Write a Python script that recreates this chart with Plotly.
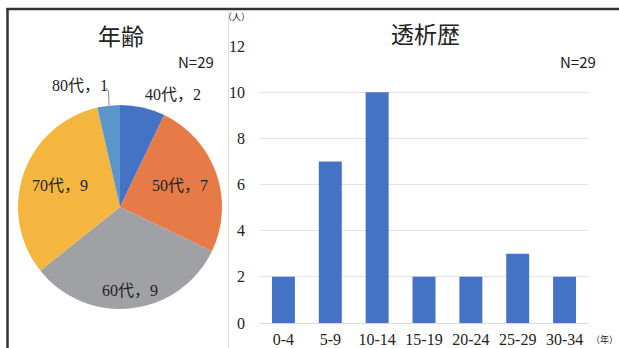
import plotly.graph_objects as go

# ---- data ----
age_labels = ["40代", "50代", "60代", "70代", "80代"]
age_counts = [2, 7, 9, 9, 1]
age_colors = ["#4472C4", "#E67B47", "#A0A1A4", "#F4B63E", "#5B96CB"]

dial_labels = ["0-4", "5-9", "10-14", "15-19", "20-24", "25-29", "30-34"]
dial_counts = [2, 7, 10, 2, 2, 3, 2]

y_ticks = [0, 2, 4, 6, 8, 10, 12]

W, H = 619, 348
def px(x):
    return x / W
def py(y):
    return 1 - y / H

SERIF = "Liberation Serif, Noto Sans CJK JP"
SANS = "Noto Sans CJK JP"
NARROW = "Liberation Sans Narrow, Arial Narrow, Noto Sans CJK JP"

fig = go.Figure()

# pie
cx, cy, r = 120, 207, 102
fig.add_trace(go.Pie(
    labels=age_labels, values=age_counts,
    marker=dict(colors=age_colors, line=dict(width=0)),
    sort=False, direction="clockwise", rotation=0,
    textinfo="none", hoverinfo="label+value",
    showlegend=False,
    domain=dict(x=[px(cx - r), px(cx + r)], y=[py(cy + r), py(cy - r)]),
))

# bars
fig.add_trace(go.Bar(
    x=dial_labels, y=dial_counts, marker=dict(color="#4472C4", line=dict(width=0)),
    showlegend=False, xaxis="x", yaxis="y",
))

fig.update_layout(
    width=W, height=H, margin=dict(l=0, r=0, t=0, b=0, autoexpand=False),
    paper_bgcolor="white", plot_bgcolor="white",
    bargap=0.51,
    xaxis=dict(domain=[px(260), px(588)], showgrid=False, zeroline=False,
               showline=True, linecolor="#D9D9D9", linewidth=1, automargin=False,
               tickfont=dict(family=SERIF, size=16, color="#222"),
               ticks="", ticklabelstandoff=2, fixedrange=True),
    yaxis=dict(domain=[py(323), py(46)], range=[0, 12], tickvals=y_ticks,
               showgrid=True, gridcolor="#E3E3E3", gridwidth=1, zeroline=False,
               showline=False, ticks="", ticklabelstandoff=14, automargin=False,
               tickfont=dict(family=SERIF, size=16, color="#222"), fixedrange=True),
)

def A(x, y, text, font, xanchor="center"):
    return dict(x=px(x), y=py(y), xref="paper", yref="paper", text=text, showarrow=False,
                font=font, xanchor=xanchor, yanchor="middle")

ann = []
# titles
ann.append(A(121, 35, "年齢", dict(family=SANS, size=23, color="#222")))
ann.append(A(425, 33, "透析歴", dict(family=SANS, size=23, color="#222")))
# N
ann.append(A(216, 61, "N=29", dict(family=NARROW, size=15, color="#222"), "right"))
ann.append(A(598, 61, "N=29", dict(family=NARROW, size=15, color="#222"), "right"))
# units
ann.append(A(236, 17, "（人）", dict(family=SANS, size=9, color="#222")))
ann.append(A(604, 339, "（年）", dict(family=SANS, size=9, color="#222")))

# pie labels
label_pos = [(173, 95), (180, 186), (130, 290), (60, 186), (80, 86)]
for lab, val, (lx, ly) in zip(age_labels, age_counts, label_pos):
    ann.append(A(lx, ly, f"{lab}，{val}", dict(family=SERIF, size=16, color="#222")))
fig.update_layout(annotations=ann)

shapes = [
    dict(type="line", xref="paper", yref="paper", x0=px(6.5), x1=1, y0=py(9), y1=py(9),
         line=dict(color="#333", width=2.5)),
    dict(type="line", xref="paper", yref="paper", x0=px(7.5), x1=px(7.5), y0=py(8), y1=0,
         line=dict(color="#333", width=2.5)),
    dict(type="line", xref="paper", yref="paper", x0=px(228.5), x1=px(228.5), y0=py(10), y1=0,
         line=dict(color="#E0E0E0", width=1)),
    dict(type="path", xref="paper", yref="paper",
         path=f"M {px(109)} {py(105)} L {px(108.5)} {py(91)} L {px(106)} {py(88)}",
         line=dict(color="#888", width=1)),
]
fig.update_layout(shapes=shapes)

fig.write_html("out.html", config={"displayModeBar": False},
               post_script="document.body.style.margin='0';")
